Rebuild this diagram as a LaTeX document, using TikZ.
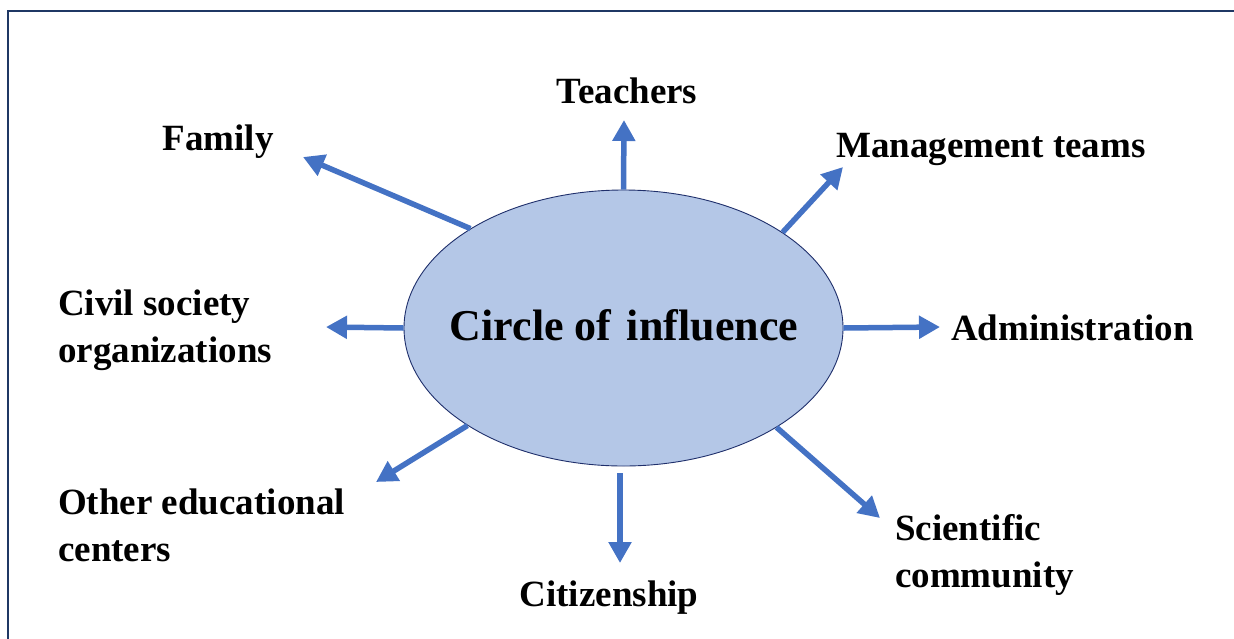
\documentclass[tikz,border=0pt]{standalone}
\usepackage{fontspec}
\setmainfont{Liberation Serif}
\usetikzlibrary{shapes.geometric,arrows.meta}
\definecolor{framenavy}{HTML}{1F3864}
\definecolor{arrowblue}{HTML}{4472C4}
\definecolor{ellfill}{HTML}{B4C7E7}
\definecolor{ellline}{HTML}{1F2F6B}
\tikzset{
  label text/.style={font=\bfseries\fontsize{37}{47}\selectfont, inner sep=0pt, align=left},
  ray/.style={draw=arrowblue, line width=5.5pt,
    -{Triangle[length=21pt,width=22pt]}},
  hub/.style={ellipse, draw=ellline, line width=0.9pt, fill=ellfill,
    minimum width=439pt, minimum height=276pt, inner sep=0pt}
}
\begin{document}
\begin{tikzpicture}[x=1pt,y=-1pt]
  \useasboundingbox (0,0) rectangle (1234,638);
  \begin{scope}
    \clip (0,0) rectangle (1234,638);
    % page frame
    \draw[framenavy, line width=1.8pt] (8,660) -- (8,11) -- (1260,11);
  \end{scope}

  % central ellipse
  \node[hub] (ell) at (623.5,328) {};
  \node[font=\bfseries\fontsize{44}{50}\selectfont, inner sep=0pt, anchor=base]
    (title) at (624,340) {Circle of\hspace{0.35em}influence};

  % arrow tips
  \coordinate (famT)   at (303,157);
  \coordinate (teachT) at (624,120);
  \coordinate (mgmtT)  at (843,167);
  \coordinate (admT)   at (940,327);
  \coordinate (civT)   at (326,327);
  \coordinate (othT)   at (376,482);
  \coordinate (citT)   at (620,563);
  \coordinate (sciT)   at (880,518);

  % labels (multi-line nodes sit on the baseline of their last line)
  \node[label text, anchor=base] (teach) at (627,103) {Teachers};
  \node[label text, anchor=base] (fam) at (218,150) {Family};
  \node[label text, anchor=base west] (mgmt) at (836,157) {Management teams};
  \node[label text, anchor=base west] (adm) at (951,340) {Administration};
  \node[label text, anchor=base west] (civ) at (58,362) {Civil society\\organizations};
  \node[label text, anchor=base west] (oth) at (58,561) {Other educational\\centers};
  \node[label text, anchor=base] (cit) at (609,606) {Citizenship};
  \node[label text, anchor=base west] (sci) at (895,587) {Scientific\\community};

  % arrows
  \draw[ray] (ell.147.8) -- (famT);
  \draw[ray] (ell.north) -- (teachT);
  \draw[ray] (ell.31.9) -- (mgmtT);
  \draw[ray] (ell.east) -- (admT);
  \draw[ray] (ell.west) -- (civT);
  \draw[ray] (ell.212.6) -- (othT);
  \draw[ray, shorten <=7pt] ([xshift=-3.5pt]ell.south) -- (citT);
  \draw[ray] (ell.327.6) -- (sciT);
\end{tikzpicture}
\end{document}
